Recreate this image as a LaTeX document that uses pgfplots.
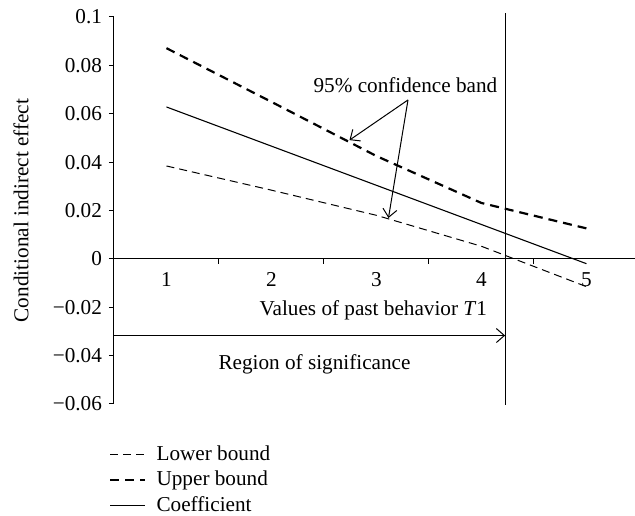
\documentclass[border=0pt]{standalone}
\usepackage{fontspec}
\setmainfont{Liberation Serif}
\usepackage{pgfplots}
\pgfplotsset{compat=1.18}
\usetikzlibrary{arrows.meta}

\pgfplotstableread{
x lower upper coef
1 0.0384 0.0871 0.0628
2 0.0284 0.0649 0.0466
3 0.0180 0.0425 0.0304
4 0.0052 0.0231 0.0142
5 -0.0115 0.0126 -0.0020
}\datatable

\begin{document}
\begin{tikzpicture}[font=\fontsize{10.6}{13}\selectfont]
\begin{axis}[
  scale only axis,
  width=260.5pt, height=193.5pt,
  xmin=0.5, xmax=5.462, ymin=-0.06, ymax=0.1,
  axis x line=middle, axis y line=left,
  axis line style={-, line width=0.5pt, black},
  clip=false,
  xtick={1.5,2.5,3.5,4.5}, xticklabels={},
  extra x ticks={1,2,3,4,5},
  extra x tick labels={1,2,3,4,5},
  extra x tick style={major tick length=0pt, tick style={draw=none}, xticklabel style={yshift=-3.5pt}},
  ytick={-0.06,-0.04,-0.02,0,0.02,0.04,0.06,0.08,0.1},
  yticklabels={−0.06,−0.04,−0.02,0,0.02,0.04,0.06,0.08,0.1},
  tick align=outside,
  major tick length=2.5pt,
  tick style={line width=0.5pt, black},
  ticklabel style={font=\fontsize{10.6}{13}\selectfont},
  ylabel={Conditional indirect effect},
  ylabel style={at={(rel axis cs:-0.1785,0.5)}, anchor=center},
  legend style={at={(rel axis cs:-0.0096,-0.096)}, anchor=north west, draw=none, fill=none,
    inner sep=0pt, row sep=0pt, font=\fontsize{10.6}{13}\selectfont,
    legend cell align=left,
    /tikz/every odd column/.append style={column sep=3pt}},
  legend image code/.code={\draw[#1] (0pt,0pt) -- (17.5pt,0pt);},
]
\addplot[black, line width=0.5pt, dash pattern=on 4pt off 2.5pt] table[x=x, y=lower] {\datatable};
\addlegendentry{Lower bound}
\addplot[black, line width=1.1pt, dash pattern=on 4.5pt off 3pt] table[x=x, y=upper] {\datatable};
\addlegendentry{Upper bound}
\addplot[black, line width=0.55pt] table[x=x, y=coef] {\datatable};
\addlegendentry{Coefficient}

\addplot[black, line width=0.55pt, forget plot] coordinates {(4.23,0.1016) (4.23,-0.0603)};

\draw[line width=0.5pt, -{Straight Barb[length=4pt, width=7pt]}] (axis cs:0.5,-0.0317) -- (axis cs:4.225,-0.0317);
\node at (axis cs:2.41,-0.0434) {Region of significance};
\node[anchor=east] at (axis cs:4.12,-0.0213) {Values of past behavior \textit{T}1};

\node at (axis cs:3.276,0.0719) {95\% confidence band};
\draw[line width=0.5pt, -{Straight Barb[length=4pt, width=7pt]}] (axis cs:3.30,0.0657) -- (axis cs:2.743,0.0491);
\draw[line width=0.5pt, -{Straight Barb[length=4pt, width=7pt]}] (axis cs:3.30,0.0657) -- (axis cs:3.114,0.0169);

\coordinate (bbsw) at (rel axis cs:-0.2188,-0.2894);
\coordinate (bbne) at (rel axis cs:1,1.0439);
\end{axis}
\pgfresetboundingbox
\path (bbsw) rectangle (bbne);
\end{tikzpicture}
\end{document}
